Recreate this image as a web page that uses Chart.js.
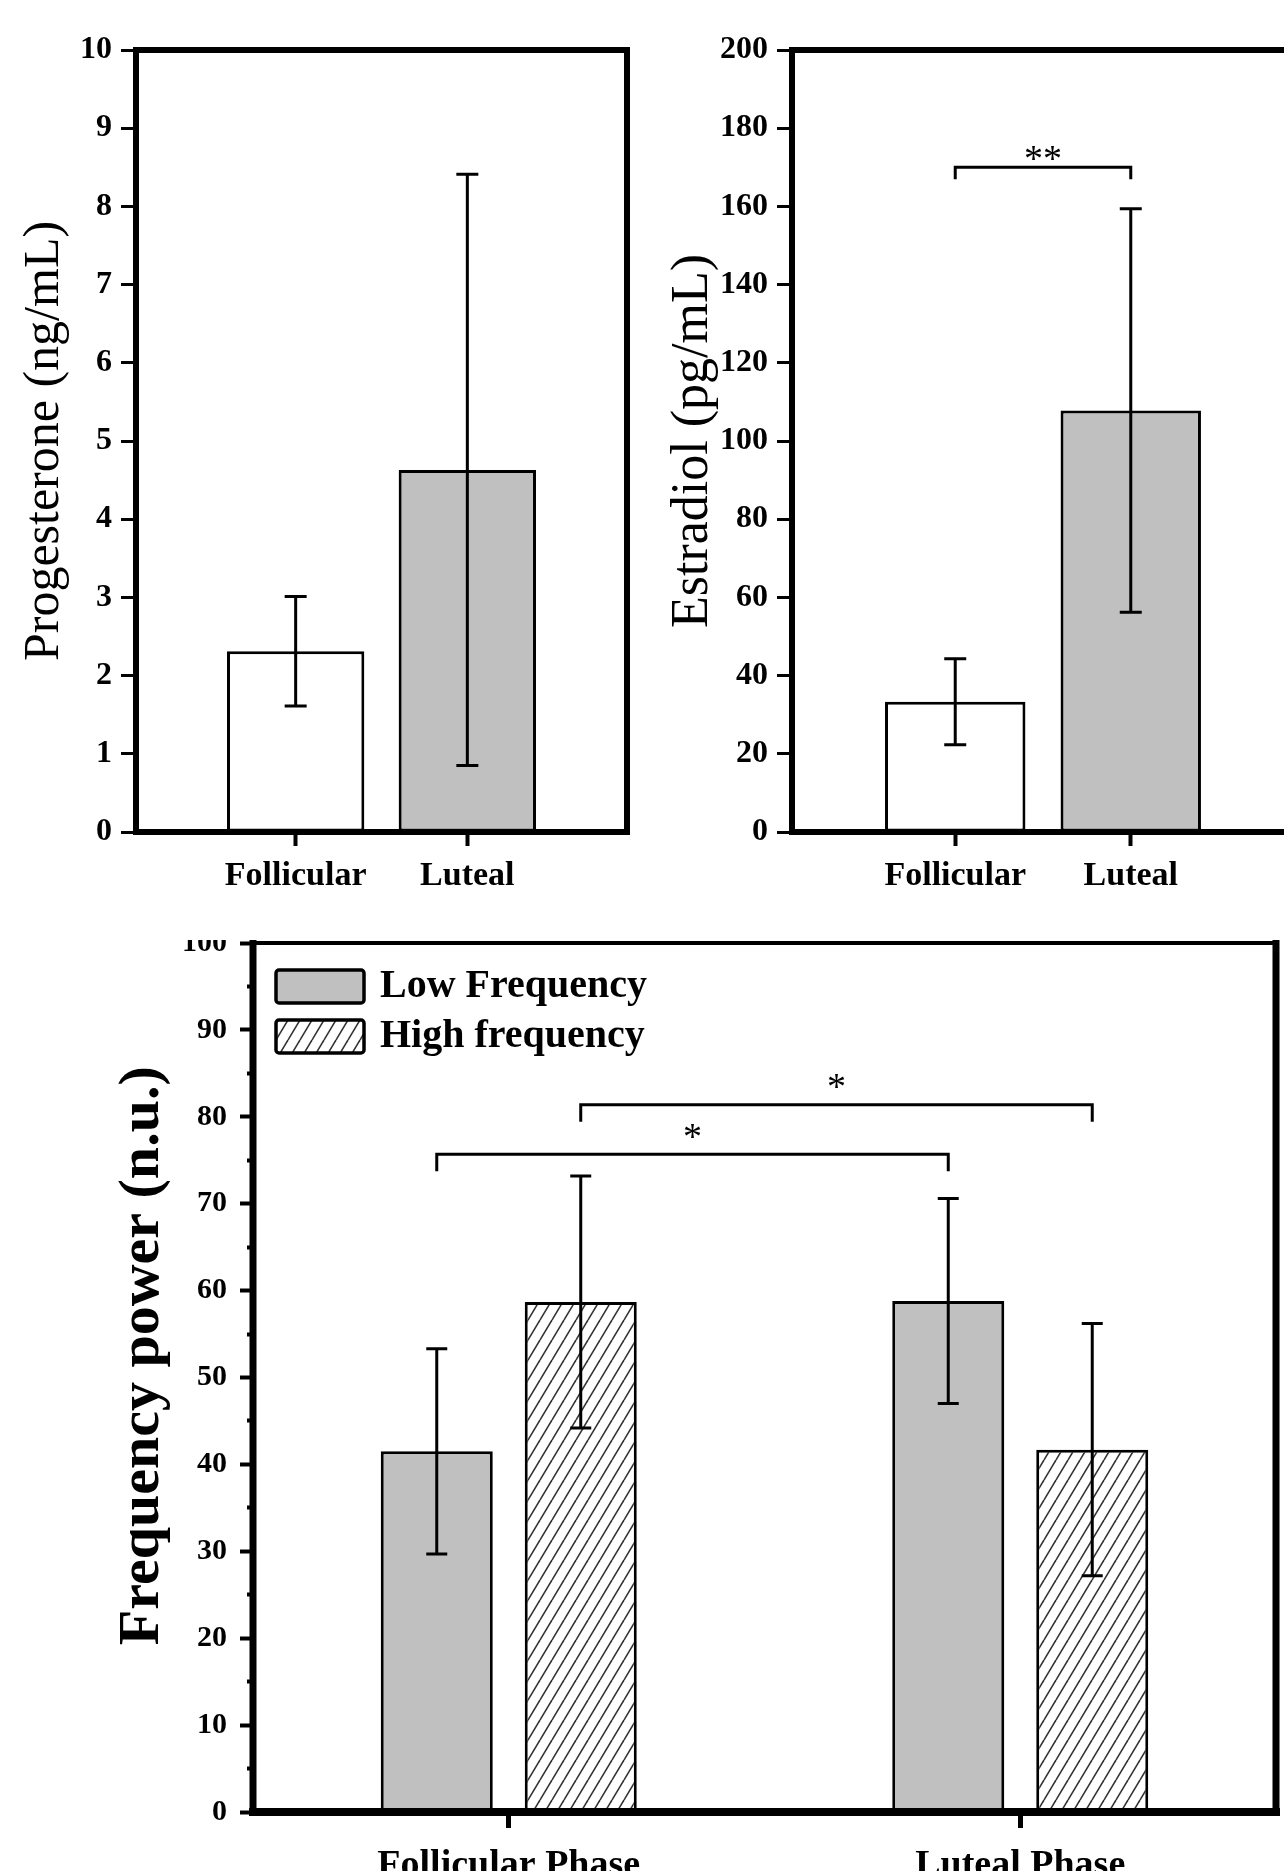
<!DOCTYPE html>
<html>
<head>
<meta charset="utf-8">
<script src="https://cdn.jsdelivr.net/npm/chart.js@4.4.1/dist/chart.umd.min.js"></script>
<style>
  html, body { margin: 0; padding: 0; background: #fff; overflow: hidden; width: 1284px; height: 1871px; }
  canvas { position: absolute; }
  #prog { left: 0; top: 0; }
  #estr { left: 640px; top: 0; }
  #hrv { left: 0; top: 940px; }
</style>
</head>
<body>
<canvas id="prog" width="660" height="930"></canvas>
<canvas id="estr" width="680" height="930"></canvas>
<canvas id="hrv" width="1284" height="931"></canvas>
<script>
// hormone panels
const phases = ['Follicular', 'Luteal'];
const progesteroneMean = [2.31, 4.63];
const progesteroneSD = [0.70, 3.78];
const estradiolMean = [33.3, 107.8];
const estradiolSD = [11.0, 51.6];
const estradiolSig = [{ from: 0, to: 1, y: 170, text: '**' }];

// frequency power panel
const hrvPhases = ['Follicular Phase', 'Luteal Phase'];
const lowFreqMean = [41.5, 58.8];
const lowFreqSD = [11.8, 11.8];
const highFreqMean = [58.7, 41.7];
const highFreqSD = [14.5, 14.5];
const hrvSig = [
    { ds: 0, from: 0, to: 1, y: 75.7, text: '*' },
    { ds: 1, from: 0, to: 1, y: 81.4, text: '*' }
];

const SERIF = "'Liberation Serif', 'Times New Roman', serif";
const GRAY = '#c0c0c0';

// diagonal hatch fill
function makeHatch(w, h) {
    const c = document.createElement('canvas');
    c.width = w;
    c.height = h;
    const g = c.getContext('2d');
    g.fillStyle = '#fff';
    g.fillRect(0, 0, w, h);
    g.strokeStyle = '#333';
    g.lineWidth = 1.6;
    for (const dx of [-w, 0, w]) {
        g.beginPath();
        g.moveTo(dx, h);
        g.lineTo(dx + w, 0);
        g.stroke();
    }
    return g.createPattern(c, 'repeat');
}

// box around the plot area
function frame(w) {
    return {
        id: 'frame',
        afterDraw(chart) {
            const { ctx, chartArea: a } = chart;
            ctx.save();
            ctx.strokeStyle = '#000';
            ctx.lineCap = 'square';
            [
                [w.top, a.left, a.top, a.right, a.top],
                [w.right, a.right, a.top, a.right, a.bottom],
                [w.bottom, a.left, a.bottom, a.right, a.bottom],
                [w.left, a.left, a.top, a.left, a.bottom]
            ].forEach(([lw, x1, y1, x2, y2]) => {
                ctx.lineWidth = lw;
                ctx.beginPath();
                ctx.moveTo(x1, y1);
                ctx.lineTo(x2, y2);
                ctx.stroke();
            });
            ctx.restore();
        }
    };
}

// mean +- SD whiskers
function errorBars(cap, lw) {
    return {
        id: 'errorBars',
        afterDatasetsDraw(chart) {
            const { ctx } = chart;
            const ys = chart.scales.y;
            ctx.save();
            ctx.strokeStyle = '#000';
            ctx.lineWidth = lw;
            chart.data.datasets.forEach((ds, di) => {
                const meta = chart.getDatasetMeta(di);
                meta.data.forEach((bar, i) => {
                    const m = meta.controller.getParsed(i).y;
                    const top = ys.getPixelForValue(m + ds.sd[i]);
                    const bot = ys.getPixelForValue(m - ds.sd[i]);
                    ctx.beginPath();
                    ctx.moveTo(bar.x, top);
                    ctx.lineTo(bar.x, bot);
                    ctx.moveTo(bar.x - cap / 2, top);
                    ctx.lineTo(bar.x + cap / 2, top);
                    ctx.moveTo(bar.x - cap / 2, bot);
                    ctx.lineTo(bar.x + cap / 2, bot);
                    ctx.stroke();
                });
            });
            ctx.restore();
        }
    };
}

// significance brackets
function brackets(items, o) {
    return {
        id: 'brackets',
        afterDatasetsDraw(chart) {
            const { ctx } = chart;
            const ys = chart.scales.y;
            ctx.save();
            ctx.strokeStyle = '#000';
            ctx.fillStyle = '#000';
            ctx.lineWidth = o.lw;
            ctx.font = o.size + 'px ' + SERIF;
            ctx.textAlign = 'center';
            ctx.textBaseline = 'alphabetic';
            items.forEach(b => {
                const pts = chart.getDatasetMeta(b.ds || 0).data;
                const x1 = pts[b.from].x;
                const x2 = pts[b.to].x;
                const y = ys.getPixelForValue(b.y);
                ctx.beginPath();
                ctx.moveTo(x1, y + o.tip);
                ctx.lineTo(x1, y);
                ctx.lineTo(x2, y);
                ctx.lineTo(x2, y + o.tip);
                ctx.stroke();
                const m = ctx.measureText(b.text);
                const cy = y - o.gap;
                ctx.fillText(b.text, (x1 + x2) / 2, cy + (m.actualBoundingBoxAscent - m.actualBoundingBoxDescent) / 2);
            });
            ctx.restore();
        }
    };
}

// legend drawn inside the plot area
function insideLegend(o) {
    return {
        id: 'insideLegend',
        afterDraw(chart) {
            const { ctx, chartArea: a } = chart;
            ctx.save();
            ctx.font = 'bold ' + o.size + 'px ' + SERIF;
            ctx.textBaseline = 'middle';
            ctx.textAlign = 'left';
            chart.data.datasets.forEach((ds, i) => {
                const x = a.left + o.x;
                const y = a.top + o.y + i * o.step;
                ctx.fillStyle = ds.backgroundColor;
                ctx.beginPath();
                ctx.roundRect(x, y, o.w, o.h, 3);
                ctx.fill();
                ctx.lineWidth = o.lw;
                ctx.strokeStyle = '#000';
                ctx.stroke();
                ctx.fillStyle = '#000';
                ctx.fillText(ds.label, x + o.w + o.textGap, y + o.h / 2);
            });
            ctx.restore();
        }
    };
}

function hormoneOptions(yMax, yStep, title, titleSize, titlePad, yWidth, padRight) {
    return {
        responsive: false,
        animation: false,
        layout: { padding: { top: 50, right: padRight, bottom: 0, left: 0 } },
        plugins: { legend: { display: false }, tooltip: { enabled: false } },
        scales: {
            x: {
                type: 'linear',
                min: 0.07,
                max: 2.93,
                offset: false,
                afterBuildTicks: s => { s.ticks = phases.map((p, i) => ({ value: i + 1 })); },
                afterFit: s => { s.height = 98; },
                grid: { drawOnChartArea: false, offset: false, tickLength: 14, tickWidth: 4, tickColor: '#000' },
                border: { display: false },
                ticks: {
                    autoSkip: false,
                    maxRotation: 0,
                    padding: 10,
                    color: '#000',
                    font: { family: SERIF, size: 34, weight: 'bold' },
                    callback: v => phases[v - 1]
                }
            },
            y: {
                min: 0,
                max: yMax,
                afterFit: s => { s.width = yWidth; },
                grid: { drawOnChartArea: false, tickLength: 15, tickWidth: 3, tickColor: '#000' },
                border: { display: false },
                ticks: {
                    stepSize: yStep,
                    padding: 9,
                    color: '#000',
                    font: { family: SERIF, size: 32, weight: 'bold' }
                },
                title: {
                    display: true,
                    text: title,
                    color: '#000',
                    font: { family: SERIF, size: titleSize, weight: 'normal' },
                    padding: { top: titlePad, bottom: 0 }
                }
            }
        }
    };
}

// progesterone
new Chart(document.getElementById('prog'), {
    type: 'bar',
    data: {
        datasets: [{
            data: phases.map((p, i) => ({ x: i + 1, y: progesteroneMean[i] })),
            sd: progesteroneSD,
            backgroundColor: ['#ffffff', GRAY],
            borderColor: '#000',
            borderWidth: 3,
            borderSkipped: false,
            barPercentage: 0.8,
            categoryPercentage: 1
        }]
    },
    options: hormoneOptions(10, 1, 'Progesterone (ng/mL)', 50, 15, 136, 33),
    plugins: [errorBars(22, 3), frame({ top: 6, right: 6, bottom: 6, left: 6 })]
});

// estradiol
new Chart(document.getElementById('estr'), {
    type: 'bar',
    data: {
        datasets: [{
            data: phases.map((p, i) => ({ x: i + 1, y: estradiolMean[i] })),
            sd: estradiolSD,
            backgroundColor: ['#ffffff', GRAY],
            borderColor: '#000',
            borderWidth: 3,
            borderSkipped: false,
            barPercentage: 0.8,
            categoryPercentage: 1
        }]
    },
    options: hormoneOptions(200, 20, 'Estradiol (pg/mL)', 52, 22, 152, 26),
    plugins: [errorBars(22, 3), brackets(estradiolSig, { lw: 3, tip: 12, gap: 14, size: 38 }), frame({ top: 6, right: 6, bottom: 6, left: 6 })]
});

// LF / HF power
new Chart(document.getElementById('hrv'), {
    type: 'bar',
    data: {
        labels: hrvPhases,
        datasets: [{
            label: 'Low Frequency',
            data: lowFreqMean,
            sd: lowFreqSD,
            backgroundColor: GRAY,
            borderColor: '#000',
            borderWidth: 3,
            borderSkipped: false,
            categoryPercentage: 0.563,
            barPercentage: 0.778
        }, {
            label: 'High frequency',
            data: highFreqMean,
            sd: highFreqSD,
            backgroundColor: makeHatch(12, 20),
            borderColor: '#000',
            borderWidth: 3,
            borderSkipped: false,
            categoryPercentage: 0.563,
            barPercentage: 0.778
        }]
    },
    options: {
        responsive: false,
        animation: false,
        layout: { padding: { top: 3, right: 8, bottom: 0, left: 0 } },
        plugins: { legend: { display: false }, tooltip: { enabled: false } },
        scales: {
            x: {
                offset: true,
                afterFit: s => { s.height = 59; },
                grid: { drawOnChartArea: false, offset: false, tickLength: 16, tickWidth: 5, tickColor: '#000' },
                border: { display: false },
                ticks: {
                    autoSkip: false,
                    maxRotation: 0,
                    padding: 15,
                    color: '#000',
                    font: { family: SERIF, size: 38, weight: 'bold' }
                }
            },
            y: {
                min: 0,
                max: 100,
                afterFit: s => { s.width = 253; s.paddingTop = 0; s.paddingBottom = 0; },
                grid: {
                    drawOnChartArea: false,
                    tickLength: 13,
                    tickWidth: 4,
                    tickColor: '#000',
                    tickBorderDash: c => (c.tick && c.tick.value % 10) ? [0, 7, 6, 100] : []
                },
                border: { display: false },
                ticks: {
                    stepSize: 5,
                    autoSkip: false,
                    padding: 13,
                    color: '#000',
                    font: { family: SERIF, size: 30, weight: 'bold' },
                    callback: v => (v % 10 ? '' : v)
                },
                title: {
                    display: true,
                    text: '   Frequency power (n.u.)',
                    color: '#000',
                    font: { family: SERIF, size: 58, weight: 'bold' },
                    padding: { top: 108, bottom: 0 }
                }
            }
        }
    },
    plugins: [
        errorBars(21, 3),
        brackets(hrvSig, { lw: 3, tip: 17, gap: 23, size: 38 }),
        frame({ top: 4, right: 7, bottom: 8, left: 7 }),
        insideLegend({ x: 23, y: 27, step: 50, w: 88, h: 33, lw: 3.5, textGap: 16, size: 40 })
    ]
});
</script>
</body>
</html>
